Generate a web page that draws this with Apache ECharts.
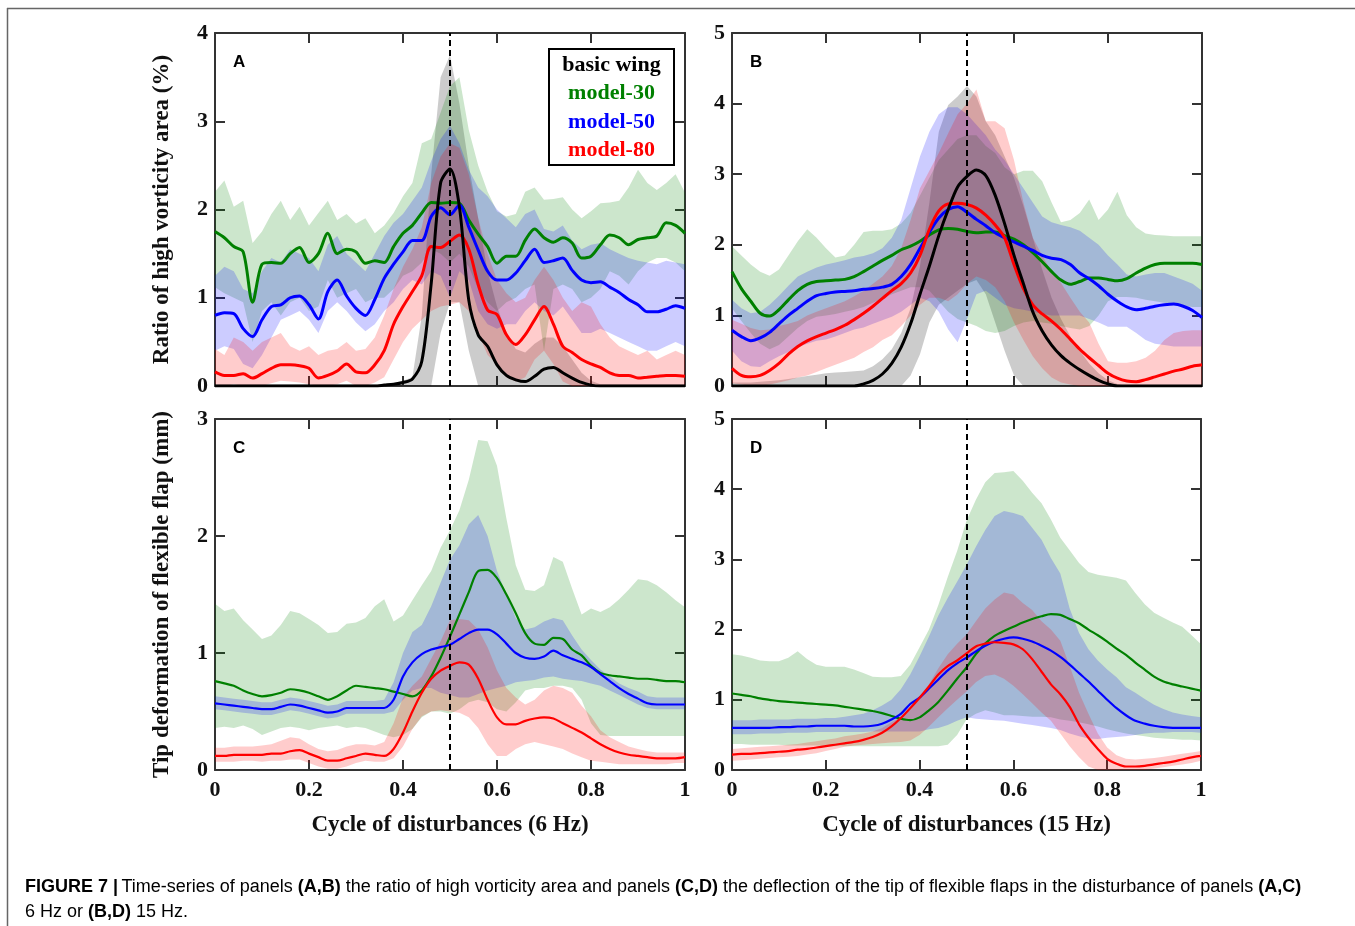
<!DOCTYPE html>
<html>
<head>
<meta charset="utf-8">
<title>Figure 7</title>
<script src="https://cdn.jsdelivr.net/npm/echarts@6/dist/echarts.min.js"></script>
<style>
  html, body { margin: 0; padding: 0; background: #fff; }
  #chart { width: 1355px; height: 926px; }
</style>
</head>
<body>
<div id="chart"></div>
<script>
// cycle of disturbances, sampled every 0.02
const cycle = [0,0.02,0.04,0.06,0.08,0.1,0.12,0.14,0.16,0.18,0.2,0.22,0.24,0.26,0.28,0.3,0.32,0.34,0.36,0.38,0.4,0.42,0.44,0.46,0.48,0.5,0.52,0.54,0.56,0.58,0.6,0.62,0.64,0.66,0.68,0.7,0.72,0.74,0.76,0.78,0.8,0.82,0.84,0.86,0.88,0.9,0.92,0.94,0.96,0.98,1];

// A: ratio of high vorticity area (%), 6 Hz
const aBasic = [0,0,0,0,0,0,0,0,0,0,0,0,0,0,0,0,0,0,0.01,0.02,0.04,0.08,0.28,1.16,2.30,2.46,2.03,0.97,0.58,0.45,0.24,0.12,0.07,0.05,0.11,0.19,0.21,0.15,0.09,0.04,0.01,0,0,0,0,0,0,0,0,0,0];
const aBasicLo = [0,0,0,0,0,0,0,0,0,0,0,0,0,0,0,0,0,0,0,0,0,0,0,0,0.6,0.95,0.95,0.4,0,0,0,0,0,0,0,0,0,0,0,0,0,0,0,0,0,0,0,0,0,0,0];
const aBasicHi = [0.02,0.02,0.02,0.02,0.02,0.02,0.02,0.02,0.02,0.02,0.02,0.02,0.02,0.02,0.02,0.02,0.02,0.02,0.02,0.03,0.06,0.10,0.80,2.40,3.50,3.75,3.20,2.50,1.90,1.30,0.90,0.60,0.42,0.38,0.48,0.55,0.55,0.45,0.30,0.15,0.06,0.02,0.02,0.02,0.02,0.02,0.02,0.02,0.02,0.02,0.02];
const aM30 = [1.75,1.68,1.58,1.52,0.95,1.38,1.40,1.39,1.50,1.57,1.40,1.50,1.73,1.50,1.55,1.52,1.39,1.42,1.40,1.58,1.73,1.82,1.96,2.08,2.07,2.08,2.07,1.88,1.72,1.58,1.39,1.47,1.47,1.65,1.78,1.68,1.63,1.68,1.62,1.45,1.47,1.60,1.71,1.68,1.60,1.66,1.68,1.70,1.85,1.82,1.73];
const aM30Lo = [1.12,1.05,1.00,0.95,0.50,0.85,0.95,0.80,0.95,1.00,0.85,0.90,1.20,1.00,1.05,1.10,0.95,1.00,1.00,1.10,1.25,1.30,1.40,1.55,1.50,1.40,1.50,1.35,1.10,0.95,0.85,0.95,1.00,1.10,1.15,0.40,1.10,1.15,1.10,0.95,1.00,1.10,1.30,1.25,1.15,1.30,1.40,1.45,1.45,1.40,1.30];
const aM30Hi = [2.20,2.33,2.03,2.10,1.62,1.75,1.95,2.10,1.88,2.03,1.82,1.96,2.10,1.88,1.95,1.84,1.90,1.73,1.82,1.96,2.15,2.30,2.75,2.80,3.10,3.40,3.50,2.90,2.50,2.20,1.98,1.92,1.95,2.20,2.25,2.11,2.12,2.14,2.00,1.90,1.98,2.07,2.08,2.10,2.25,2.45,2.30,2.22,2.30,2.40,2.19];
const aM50 = [0.80,0.83,0.82,0.65,0.56,0.75,0.90,0.92,1.00,1.02,0.92,0.76,1.07,1.20,1.02,0.88,0.80,0.98,1.22,1.38,1.52,1.65,1.65,1.92,2.02,1.94,2.05,1.80,1.54,1.30,1.20,1.20,1.28,1.42,1.55,1.40,1.42,1.45,1.31,1.20,1.17,1.18,1.12,1.06,0.98,0.92,0.84,0.84,0.87,0.91,0.88];
const aM50Lo = [0.40,0.45,0.42,0.25,0.20,0.35,0.55,0.75,0.80,0.85,0.75,0.60,0.85,0.95,0.85,0.72,0.62,0.70,0.85,0.95,1.10,1.20,1.15,1.30,1.25,1.00,1.30,1.20,0.85,0.70,0.65,0.70,0.70,0.85,0.95,0.85,0.80,0.90,0.75,0.60,0.60,0.65,0.60,0.55,0.50,0.45,0.40,0.40,0.45,0.50,0.45];
const aM50Hi = [1.25,1.35,1.30,1.10,1.05,1.30,1.45,1.40,1.55,1.50,1.45,1.30,1.60,1.70,1.50,1.40,1.30,1.50,1.70,1.85,1.95,2.10,2.25,2.55,2.80,2.95,2.75,2.45,2.25,2.15,2.00,1.90,1.80,1.95,2.00,1.78,1.75,1.82,1.65,1.55,1.60,1.62,1.55,1.50,1.45,1.42,1.40,1.38,1.42,1.40,1.38];
const aM80 = [0.16,0.12,0.12,0.14,0.09,0.14,0.20,0.24,0.24,0.23,0.20,0.09,0.12,0.17,0.25,0.16,0.15,0.24,0.40,0.70,0.90,1.07,1.25,1.58,1.57,1.64,1.71,1.55,1.15,0.86,0.81,0.58,0.47,0.58,0.75,0.90,0.70,0.45,0.38,0.30,0.25,0.21,0.15,0.12,0.12,0.09,0.10,0.11,0.12,0.12,0.11];
const aM80Lo = [0.02,0,0.02,0,0,0,0.03,0.06,0.05,0.04,0.02,0,0,0.02,0.06,0,0,0.04,0.10,0.30,0.50,0.65,0.75,0.85,0.90,0.92,0.95,0.85,0.60,0.35,0.25,0.10,0.05,0.10,0.30,0.40,0.25,0.05,0,0,0,0,0,0,0,0,0,0,0,0,0];
const aM80Hi = [0.42,0.35,0.55,0.50,0.40,0.50,0.55,0.60,0.45,0.40,0.45,0.35,0.40,0.42,0.50,0.40,0.42,0.55,0.80,1.10,1.35,1.55,1.80,2.30,2.60,2.75,2.70,2.40,1.90,1.50,1.20,1.05,0.95,1.00,1.20,1.35,1.20,1.00,0.85,0.95,0.90,0.70,0.55,0.45,0.40,0.35,0.40,0.30,0.35,0.40,0.35];

// B: ratio of high vorticity area (%), 15 Hz
const bBasic = [0,0,0,0,0,0,0,0,0,0,0,0,0,0,0.03,0.08,0.17,0.32,0.55,0.88,1.30,1.70,2.13,2.50,2.82,2.97,3.06,2.98,2.70,2.30,1.85,1.45,1.05,0.78,0.58,0.43,0.32,0.23,0.15,0.08,0.03,0,0,0,0,0,0,0,0,0,0];
const bBasicLo = [0,0,0,0,0,0,0,0,0,0,0,0,0,0,0,0,0,0,0,0.15,0.45,0.9,1.15,1.25,1.35,1.45,1.5,1.3,0.9,0.5,0.15,0,0,0,0,0,0,0,0,0,0,0,0,0,0,0,0,0,0,0,0];
const bBasicHi = [0.05,0.05,0.05,0.06,0.07,0.08,0.10,0.12,0.14,0.16,0.18,0.19,0.20,0.21,0.22,0.28,0.38,0.52,0.75,1.10,1.70,2.60,3.60,3.98,4.10,4.25,4.10,3.75,3.55,3.25,2.95,2.55,2.10,1.65,1.25,0.95,0.70,0.50,0.32,0.18,0.08,0.03,0,0,0,0,0,0,0,0,0];
const bM30 = [1.62,1.38,1.20,1.03,0.99,1.08,1.22,1.35,1.44,1.48,1.49,1.50,1.51,1.55,1.62,1.70,1.78,1.85,1.93,1.98,2.05,2.14,2.21,2.23,2.22,2.19,2.17,2.18,2.18,2.13,2.08,2.00,1.89,1.76,1.62,1.50,1.44,1.48,1.53,1.53,1.51,1.49,1.52,1.60,1.67,1.72,1.74,1.74,1.74,1.74,1.72];
const bM30Lo = [1.10,0.92,0.75,0.60,0.52,0.58,0.70,0.82,0.92,0.98,1.00,1.02,1.05,1.08,1.12,1.18,1.24,1.30,1.35,1.40,1.40,1.35,1.20,1.05,0.95,0.90,0.85,0.78,0.75,0.78,0.85,0.90,0.92,0.90,0.88,0.85,0.82,0.80,0.85,1.00,1.20,1.26,1.26,1.25,1.22,1.20,1.18,1.16,1.14,1.12,1.12];
const bM30Hi = [1.98,1.85,1.72,1.62,1.56,1.65,1.85,2.05,2.22,2.10,1.95,1.82,1.85,2.00,2.18,2.20,2.20,2.22,2.30,2.45,2.70,2.95,3.20,3.35,3.50,3.55,3.55,3.40,3.30,3.10,3.00,3.05,3.05,2.90,2.60,2.32,2.35,2.45,2.64,2.35,2.50,2.75,2.42,2.25,2.16,2.14,2.13,2.12,2.12,2.12,2.12];
const bM50 = [0.79,0.70,0.64,0.68,0.76,0.88,1.00,1.10,1.20,1.28,1.31,1.33,1.34,1.35,1.37,1.38,1.40,1.44,1.55,1.72,1.95,2.18,2.38,2.50,2.54,2.46,2.36,2.27,2.17,2.10,2.04,1.98,1.92,1.85,1.81,1.79,1.72,1.60,1.52,1.42,1.30,1.20,1.12,1.08,1.10,1.13,1.15,1.16,1.13,1.07,0.97];
const bM50Lo = [0.50,0.35,0.28,0.27,0.35,0.42,0.48,0.55,0.60,0.64,0.66,0.70,0.75,0.80,0.83,0.88,0.93,0.98,1.05,1.15,1.25,1.20,1.05,0.80,0.62,0.95,1.30,1.35,1.25,1.15,1.10,1.08,1.05,1.02,1.00,1.00,1.00,1.00,0.95,0.90,0.84,0.84,0.84,0.75,0.65,0.60,0.58,0.56,0.56,0.56,0.56];
const bM50Hi = [1.22,1.10,1.03,1.05,1.15,1.28,1.42,1.55,1.62,1.68,1.72,1.75,1.78,1.82,1.84,1.88,1.95,2.10,2.35,2.80,3.25,3.60,3.85,3.95,3.95,3.85,3.70,3.55,3.35,3.20,3.00,2.80,2.60,2.40,2.32,2.28,2.25,2.20,2.10,2.00,1.85,1.72,1.58,1.55,1.58,1.60,1.60,1.55,1.50,1.45,1.35];
const bM80 = [0.25,0.15,0.13,0.15,0.22,0.32,0.45,0.56,0.64,0.70,0.75,0.80,0.86,0.94,1.03,1.13,1.24,1.35,1.45,1.60,1.85,2.22,2.48,2.58,2.59,2.57,2.52,2.42,2.28,2.10,1.72,1.38,1.15,1.02,0.92,0.80,0.66,0.52,0.40,0.29,0.18,0.11,0.07,0.06,0.09,0.13,0.17,0.21,0.24,0.28,0.30];
const bM80Lo = [0.04,0.02,0,0,0.02,0.05,0.08,0.12,0.15,0.20,0.25,0.30,0.35,0.40,0.48,0.55,0.65,0.72,0.85,1.00,1.15,1.25,1.25,1.20,1.30,1.45,1.55,1.50,1.40,1.20,0.90,0.65,0.42,0.25,0.12,0.05,0.02,0,0,0,0,0,0,0,0,0,0,0,0,0,0];
const bM80Hi = [0.94,0.88,0.82,0.79,0.80,0.85,0.88,0.92,1.00,1.05,1.10,1.15,1.20,1.27,1.35,1.45,1.55,1.70,1.95,2.35,2.80,3.05,3.30,3.58,3.85,4.00,4.20,3.75,3.75,3.65,3.20,2.60,2.10,1.85,1.62,1.46,1.25,1.05,0.90,0.60,0.35,0.33,0.33,0.35,0.40,0.50,0.65,0.75,0.78,0.79,0.79];

// C: tip deformation of flexible flap (mm), 6 Hz
const cM30 = [0.76,0.74,0.72,0.68,0.65,0.63,0.64,0.66,0.69,0.68,0.66,0.63,0.60,0.63,0.68,0.72,0.71,0.70,0.69,0.67,0.65,0.63,0.68,0.80,0.96,1.14,1.33,1.52,1.70,1.71,1.64,1.50,1.34,1.17,1.08,1.07,1.13,1.12,1.03,0.98,0.89,0.83,0.81,0.80,0.79,0.78,0.78,0.77,0.76,0.76,0.75];
const cM30Lo = [0.36,0.37,0.36,0.38,0.35,0.30,0.33,0.36,0.37,0.36,0.34,0.36,0.37,0.38,0.36,0.37,0.36,0.33,0.30,0.28,0.30,0.35,0.45,0.50,0.50,0.48,0.52,0.58,0.60,0.58,0.52,0.50,0.58,0.68,0.70,0.70,0.72,0.72,0.70,0.60,0.40,0.30,0.29,0.29,0.29,0.29,0.29,0.29,0.29,0.29,0.29];
const cM30Hi = [1.42,1.36,1.38,1.28,1.20,1.12,1.15,1.24,1.36,1.34,1.29,1.24,1.17,1.18,1.25,1.26,1.30,1.40,1.46,1.27,1.32,1.45,1.58,1.70,1.90,2.05,2.22,2.48,2.82,2.81,2.60,2.15,1.75,1.54,1.53,1.58,1.82,1.78,1.55,1.33,1.38,1.35,1.39,1.46,1.54,1.63,1.62,1.58,1.52,1.45,1.39];
const cM50 = [0.57,0.56,0.55,0.54,0.53,0.52,0.52,0.54,0.56,0.55,0.53,0.51,0.49,0.50,0.53,0.53,0.53,0.53,0.53,0.60,0.80,0.92,0.99,1.03,1.05,1.07,1.12,1.17,1.20,1.20,1.16,1.08,1.00,0.96,0.95,0.97,1.02,0.98,0.95,0.92,0.88,0.82,0.76,0.70,0.65,0.61,0.57,0.56,0.56,0.56,0.56];
const cM50Lo = [0.52,0.51,0.50,0.49,0.48,0.47,0.47,0.49,0.51,0.50,0.48,0.46,0.44,0.45,0.48,0.48,0.48,0.48,0.48,0.50,0.60,0.68,0.70,0.70,0.66,0.64,0.62,0.62,0.65,0.68,0.70,0.72,0.75,0.76,0.77,0.79,0.80,0.78,0.77,0.76,0.74,0.72,0.68,0.64,0.60,0.56,0.53,0.52,0.52,0.52,0.52];
const cM50Hi = [0.63,0.62,0.61,0.60,0.59,0.58,0.58,0.60,0.62,0.61,0.59,0.57,0.55,0.56,0.59,0.59,0.59,0.59,0.60,0.75,1.00,1.18,1.24,1.40,1.60,1.80,1.92,2.10,2.18,2.00,1.70,1.50,1.30,1.20,1.22,1.27,1.30,1.28,1.15,1.03,0.94,0.86,0.80,0.74,0.70,0.67,0.63,0.62,0.62,0.62,0.62];
const cM80 = [0.12,0.12,0.13,0.13,0.13,0.13,0.14,0.14,0.16,0.17,0.14,0.11,0.08,0.08,0.10,0.12,0.14,0.13,0.12,0.18,0.32,0.50,0.66,0.78,0.85,0.89,0.92,0.90,0.78,0.60,0.45,0.39,0.39,0.42,0.44,0.45,0.44,0.40,0.36,0.32,0.27,0.22,0.18,0.15,0.13,0.12,0.11,0.10,0.10,0.10,0.11];
const cM80Lo = [0.07,0.07,0.07,0.08,0.08,0.07,0.08,0.08,0.09,0.09,0.06,0.03,0.01,0.01,0.03,0.06,0.08,0.07,0.07,0.10,0.20,0.35,0.46,0.50,0.51,0.50,0.49,0.45,0.36,0.22,0.12,0.12,0.18,0.22,0.24,0.22,0.20,0.18,0.14,0.11,0.08,0.07,0.06,0.05,0.05,0.05,0.05,0.05,0.05,0.06,0.06];
const cM80Hi = [0.19,0.19,0.20,0.20,0.20,0.21,0.22,0.25,0.28,0.27,0.22,0.18,0.16,0.17,0.20,0.22,0.22,0.21,0.24,0.40,0.62,0.72,0.80,0.95,1.10,1.28,1.29,1.28,1.20,1.05,0.85,0.70,0.62,0.56,0.60,0.68,0.72,0.70,0.66,0.55,0.46,0.34,0.28,0.24,0.20,0.18,0.16,0.15,0.15,0.15,0.15];

// D: tip deformation of flexible flap (mm), 15 Hz
const dM30 = [1.09,1.07,1.05,1.02,1.00,0.98,0.97,0.96,0.95,0.94,0.93,0.92,0.90,0.88,0.86,0.84,0.81,0.77,0.73,0.71,0.75,0.85,0.97,1.13,1.30,1.46,1.65,1.80,1.91,1.98,2.04,2.10,2.15,2.19,2.22,2.21,2.15,2.09,2.00,1.92,1.83,1.73,1.64,1.53,1.43,1.33,1.26,1.22,1.19,1.16,1.13];
const dM30Lo = [0.37,0.37,0.36,0.36,0.36,0.36,0.35,0.35,0.35,0.35,0.34,0.34,0.34,0.34,0.34,0.34,0.34,0.34,0.34,0.34,0.34,0.34,0.34,0.36,0.50,0.72,0.80,0.85,0.82,0.78,0.78,0.77,0.76,0.76,0.75,0.72,0.70,0.68,0.65,0.62,0.58,0.55,0.52,0.50,0.48,0.46,0.45,0.44,0.43,0.43,0.42];
const dM30Hi = [1.65,1.63,1.60,1.56,1.55,1.55,1.60,1.69,1.58,1.50,1.47,1.47,1.47,1.43,1.38,1.33,1.32,1.32,1.34,1.50,1.75,2.00,2.35,2.75,3.12,3.55,3.85,4.10,4.23,4.24,4.26,4.12,3.95,3.80,3.57,3.31,3.13,2.95,2.82,2.78,2.76,2.74,2.70,2.52,2.36,2.24,2.17,2.10,2.04,1.92,1.79];
const dM50 = [0.60,0.60,0.60,0.60,0.60,0.61,0.61,0.62,0.62,0.63,0.63,0.63,0.63,0.62,0.62,0.63,0.66,0.72,0.80,0.94,1.03,1.16,1.29,1.42,1.52,1.60,1.69,1.77,1.83,1.87,1.89,1.87,1.83,1.77,1.70,1.61,1.50,1.38,1.26,1.13,1.00,0.88,0.78,0.70,0.66,0.63,0.61,0.60,0.60,0.60,0.60];
const dM50Lo = [0.51,0.51,0.51,0.52,0.52,0.52,0.53,0.53,0.53,0.54,0.54,0.54,0.54,0.54,0.54,0.55,0.55,0.55,0.55,0.55,0.55,0.58,0.60,0.64,0.70,0.75,0.73,0.72,0.71,0.70,0.68,0.66,0.64,0.62,0.60,0.57,0.52,0.48,0.45,0.44,0.46,0.47,0.48,0.50,0.52,0.53,0.53,0.54,0.54,0.54,0.53];
const dM50Hi = [0.71,0.71,0.71,0.72,0.72,0.72,0.72,0.73,0.73,0.73,0.74,0.74,0.76,0.78,0.80,0.85,0.92,1.00,1.15,1.36,1.62,1.90,2.20,2.45,2.68,2.92,3.18,3.42,3.62,3.69,3.66,3.62,3.45,3.28,3.02,2.80,2.30,1.95,1.72,1.56,1.43,1.32,1.18,1.10,1.01,0.93,0.87,0.82,0.79,0.77,0.75];
const dM80 = [0.22,0.23,0.23,0.24,0.25,0.26,0.27,0.29,0.30,0.32,0.34,0.36,0.38,0.40,0.43,0.47,0.53,0.62,0.74,0.88,1.03,1.19,1.36,1.48,1.56,1.66,1.76,1.80,1.82,1.81,1.79,1.72,1.58,1.40,1.22,1.08,0.90,0.65,0.46,0.30,0.16,0.09,0.05,0.05,0.06,0.08,0.10,0.12,0.15,0.18,0.20];
const dM80Lo = [0.13,0.14,0.15,0.16,0.17,0.18,0.19,0.20,0.22,0.24,0.27,0.30,0.33,0.35,0.36,0.37,0.38,0.39,0.40,0.42,0.50,0.62,0.75,0.88,1.00,1.12,1.25,1.34,1.36,1.30,1.20,1.08,0.95,0.82,0.70,0.52,0.34,0.18,0.05,0,0,0,0,0,0,0.02,0.04,0.06,0.08,0.10,0.13];
const dM80Hi = [0.30,0.31,0.32,0.33,0.34,0.35,0.36,0.37,0.39,0.41,0.43,0.45,0.48,0.50,0.52,0.55,0.60,0.68,0.75,0.85,1.02,1.22,1.45,1.65,1.80,1.93,2.12,2.30,2.43,2.53,2.50,2.38,2.28,2.12,2.00,1.84,1.48,1.10,0.80,0.52,0.32,0.21,0.16,0.15,0.16,0.17,0.19,0.21,0.23,0.25,0.27];

const yTicks = [4, 5, 3, 5];

const serif = '"Liberation Serif", "Times New Roman", serif';
const sans = '"Liberation Sans", Arial, sans-serif';

const BLACK = '#000000', GREEN = '#008000', BLUE = '#0000ff', RED = '#ff0000';

const panels = [
  { letter: 'A', grid: { left: 215, top: 33, width: 470, height: 353 }, lw: 3,
    yName: 'Ratio of high vorticity area (%)', xName: '',
    groups: [
      { name: 'basic wing', color: BLACK, fill: 'rgba(0,0,0,0.2)', mean: aBasic, lo: aBasicLo, hi: aBasicHi },
      { name: 'model-30', color: GREEN, fill: 'rgba(0,128,0,0.2)', mean: aM30, lo: aM30Lo, hi: aM30Hi },
      { name: 'model-50', color: BLUE, fill: 'rgba(0,0,255,0.2)', mean: aM50, lo: aM50Lo, hi: aM50Hi },
      { name: 'model-80', color: RED, fill: 'rgba(255,0,0,0.2)', mean: aM80, lo: aM80Lo, hi: aM80Hi }
    ] },
  { letter: 'B', grid: { left: 732, top: 33, width: 470, height: 353 }, lw: 3,
    yName: '', xName: '',
    groups: [
      { name: 'basic wing', color: BLACK, fill: 'rgba(0,0,0,0.2)', mean: bBasic, lo: bBasicLo, hi: bBasicHi },
      { name: 'model-30', color: GREEN, fill: 'rgba(0,128,0,0.2)', mean: bM30, lo: bM30Lo, hi: bM30Hi },
      { name: 'model-50', color: BLUE, fill: 'rgba(0,0,255,0.2)', mean: bM50, lo: bM50Lo, hi: bM50Hi },
      { name: 'model-80', color: RED, fill: 'rgba(255,0,0,0.2)', mean: bM80, lo: bM80Lo, hi: bM80Hi }
    ] },
  { letter: 'C', grid: { left: 215, top: 419, width: 470, height: 351 }, lw: 2.2,
    yName: 'Tip deformation of flexible flap (mm)', xName: 'Cycle of disturbances (6 Hz)',
    groups: [
      { name: 'model-30', color: GREEN, fill: 'rgba(0,128,0,0.2)', mean: cM30, lo: cM30Lo, hi: cM30Hi },
      { name: 'model-50', color: BLUE, fill: 'rgba(0,0,255,0.2)', mean: cM50, lo: cM50Lo, hi: cM50Hi },
      { name: 'model-80', color: RED, fill: 'rgba(255,0,0,0.2)', mean: cM80, lo: cM80Lo, hi: cM80Hi }
    ] },
  { letter: 'D', grid: { left: 732, top: 419, width: 469, height: 351 }, lw: 2.2,
    yName: '', xName: 'Cycle of disturbances (15 Hz)',
    groups: [
      { name: 'model-30', color: GREEN, fill: 'rgba(0,128,0,0.2)', mean: dM30, lo: dM30Lo, hi: dM30Hi },
      { name: 'model-50', color: BLUE, fill: 'rgba(0,0,255,0.2)', mean: dM50, lo: dM50Lo, hi: dM50Hi },
      { name: 'model-80', color: RED, fill: 'rgba(255,0,0,0.2)', mean: dM80, lo: dM80Lo, hi: dM80Hi }
    ] }
];

const tickFont = { fontFamily: serif, fontWeight: 'bold', fontSize: 22, color: '#111' };
const nameFont = { fontFamily: serif, fontWeight: 'bold', fontSize: 23, color: '#111' };
const frameLine = { show: true, onZero: false, lineStyle: { color: '#333', width: 2 } };
const frameTick = { show: true, inside: true, length: 10, lineStyle: { color: '#333', width: 2 } };

const xAxis = [], yAxis = [], series = [];

// filled range between lower and upper edge, drawn as one polygon through the axes
function bandSeries(g, ax) {
  return Object.assign({
    type: 'custom', name: g.name + ' range', silent: true, z: 2,
    encode: { x: 0, y: [1, 2] },
    data: cycle.map((t, i) => [t, g.lo[i], g.hi[i]]),
    renderItem: function (params, api) {
      if (params.dataIndex !== 0) return null;
      const pts = [];
      for (let i = 0; i < cycle.length; i++) pts.push(api.coord([cycle[i], g.hi[i]]));
      for (let i = cycle.length - 1; i >= 0; i--) pts.push(api.coord([cycle[i], g.lo[i]]));
      return { type: 'polygon', shape: { points: pts }, style: { fill: g.fill } };
    }
  }, ax);
}

panels.forEach((p, gi) => {
  const common = { gridIndex: gi, type: 'value', splitLine: { show: false }, axisLine: frameLine, axisTick: frameTick };
  xAxis.push(Object.assign({}, common, {
    position: 'bottom', min: 0, max: 1, interval: 0.2,
    axisLabel: Object.assign({ show: gi >= 2, margin: 9 }, tickFont),
    name: p.xName, nameLocation: 'middle', nameGap: 44, nameTextStyle: nameFont
  }));
  xAxis.push(Object.assign({}, common, { position: 'top', min: 0, max: 1, interval: 0.2, axisLabel: { show: false } }));
  yAxis.push(Object.assign({}, common, {
    position: 'left', min: 0, max: yTicks[gi], interval: 1,
    axisLabel: Object.assign({ margin: 7 }, tickFont),
    name: p.yName, nameLocation: 'middle', nameGap: 41, nameTextStyle: nameFont
  }));
  yAxis.push(Object.assign({}, common, { position: 'right', min: 0, max: yTicks[gi], interval: 1, axisLabel: { show: false } }));

  const ax = { xAxisIndex: gi * 2, yAxisIndex: gi * 2 };

  p.groups.forEach(g => series.push(bandSeries(g, ax)));

  // mean curves, basic wing drawn last
  const order = p.groups.filter(g => g.name !== 'basic wing').concat(p.groups.filter(g => g.name === 'basic wing'));
  order.forEach((g, k) => {
    const s = Object.assign({
      type: 'line', name: g.name, symbol: 'none', smooth: 0.3, z: 3,
      lineStyle: { color: g.color, width: p.lw }, itemStyle: { color: g.color },
      data: cycle.map((t, i) => [t, g.mean[i]])
    }, ax);
    if (k === 0) {
      s.markLine = {
        silent: true, symbol: ['none', 'none'], label: { show: false },
        lineStyle: { color: '#000', width: 2, type: [6, 4] },
        data: [{ xAxis: 0.5 }]
      };
    }
    series.push(s);
  });
});

const letters = panels.map(p => ({
  type: 'text', left: p.grid.left + 18, top: p.grid.top + 21, z: 10,
  style: { text: p.letter, font: 'bold 17px ' + sans, fill: '#000' }
}));

const legendRows = [['basic wing', BLACK], ['model-30', GREEN], ['model-50', BLUE], ['model-80', RED]];
const legend = {
  type: 'group', left: 548, top: 48, z: 20,
  children: [
    { type: 'rect', shape: { x: 0, y: 0, width: 125, height: 116 }, style: { fill: '#fff', stroke: '#000', lineWidth: 2 } }
  ].concat(legendRows.map((r, i) => ({
    type: 'text', x: 62.5, y: 16 + i * 28.5,
    style: { text: r[0], fill: r[1], font: 'bold 22px ' + serif, textAlign: 'center', textVerticalAlign: 'middle' }
  })))
};

const capRich = {
  b: { fontFamily: sans, fontWeight: 'bold', fontSize: 18, color: '#222' },
  n: { fontFamily: sans, fontSize: 18, color: '#444' }
};
const caption = [
  { type: 'text', left: 25, top: 878, z: 10,
    style: {
      text: '{b|FIGURE 7 |} {n|Time-series of panels }{b|(A,B)}{n| the ratio of high vorticity area and panels }{b|(C,D)}{n| the deflection of the tip of flexible flaps in the disturbance of panels }{b|(A,C)}',
      rich: capRich
    } },
  { type: 'text', left: 25, top: 903, z: 10,
    style: { text: '{n|6 Hz or }{b|(B,D)}{n| 15 Hz.}', rich: capRich } }
];

const frame = [
  { type: 'line', shape: { x1: 7, y1: 8.5, x2: 1355, y2: 8.5 }, style: { stroke: '#666', lineWidth: 1.5 } },
  { type: 'line', shape: { x1: 7.5, y1: 8, x2: 7.5, y2: 926 }, style: { stroke: '#666', lineWidth: 1.5 } }
];

const chart = echarts.init(document.getElementById('chart'));
chart.setOption({
  animation: false,
  backgroundColor: '#fff',
  grid: panels.map(p => Object.assign({ containLabel: false }, p.grid)),
  xAxis: xAxis,
  yAxis: yAxis,
  series: series,
  graphic: frame.concat(letters, [legend], caption)
});
</script>
</body>
</html>
